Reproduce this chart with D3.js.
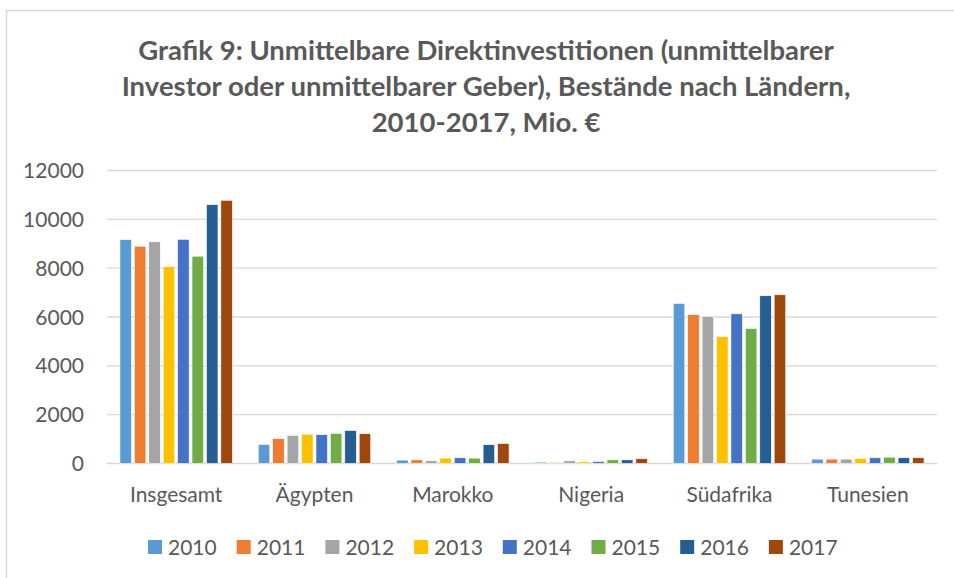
<!DOCTYPE html>
<html>
<head>
<meta charset="utf-8">
<script src="https://cdn.jsdelivr.net/npm/d3@7"></script>
<style>
  body { margin: 0; background: #fff; }
  text { font-family: Lato, "Open Sans", sans-serif; }
</style>
</head>
<body>
<script>
// data (Mio. €)
var countries = ["Insgesamt", "Ägypten", "Marokko", "Nigeria", "Südafrika", "Tunesien"];
var years = ["2010", "2011", "2012", "2013", "2014", "2015", "2016", "2017"];
var colors = ["#5b9bd5", "#ed7d31", "#a5a5a5", "#ffc000", "#4472c4", "#70ad47", "#255e91", "#9e480e"];

var v2010 = [9170, 780, 140, 55, 6560, 180];
var v2011 = [8900, 1020, 150, 40, 6100, 180];
var v2012 = [9080, 1150, 110, 110, 6020, 180];
var v2013 = [8060, 1200, 220, 70, 5200, 205];
var v2014 = [9180, 1180, 235, 80, 6130, 235];
var v2015 = [8490, 1230, 220, 150, 5530, 260];
var v2016 = [10600, 1350, 770, 150, 6870, 235];
var v2017 = [10780, 1220, 820, 195, 6910, 235];
var yTicks = [0, 2000, 4000, 6000, 8000, 10000, 12000];

var series = [v2010, v2011, v2012, v2013, v2014, v2015, v2016, v2017];
var titleLines = [
  "Grafik 9: Unmittelbare Direktinvestitionen (unmittelbarer",
  "Investor oder unmittelbarer Geber), Bestände nach Ländern,",
  "2010-2017, Mio. €"
];

var w = 954, h = 578;
var svg = d3.select("body").append("svg")
    .attr("width", w)
    .attr("height", h);

// outer frame
svg.append("rect")
    .attr("x", 6.5).attr("y", 10.5)
    .attr("width", 960).attr("height", 600)
    .attr("fill", "none")
    .attr("stroke", "#d9d9d9")
    .attr("stroke-width", 1.5);

// title
svg.selectAll("text.title")
    .data(titleLines)
    .enter()
    .append("text")
    .attr("class", "title")
    .attr("x", 486)
    .attr("y", function(d, i) { return 60 + i * 36; })
    .attr("text-anchor", "middle")
    .attr("font-size", "27.5px")
    .attr("font-weight", "bold")
    .attr("fill", "#595959")
    .text(function(d) { return d; });

var plotL = 107, plotR = 937, plotT = 170.5, plotB = 463.5;

var y = d3.scaleLinear().domain([0, 12000]).range([plotB, plotT]);
var x0 = d3.scaleBand().domain(countries).range([plotL, plotR]).padding(0);
var x1 = d3.scaleBand().domain(years)
    .range([11.5, x0.bandwidth() - 11.5])
    .paddingInner(0.2).paddingOuter(0.1);

// gridlines
svg.append("g")
    .selectAll("line")
    .data(yTicks)
    .enter()
    .append("line")
    .attr("x1", plotL).attr("x2", plotR)
    .attr("y1", function(d) { return y(d); })
    .attr("y2", function(d) { return y(d); })
    .attr("stroke", "#d9d9d9")
    .attr("stroke-width", 1.3);

// y labels
svg.append("g")
    .selectAll("text")
    .data(yTicks)
    .enter()
    .append("text")
    .attr("x", 84)
    .attr("y", function(d) { return y(d) + 7.5; })
    .attr("text-anchor", "end")
    .attr("font-size", "21px")
    .attr("fill", "#595959")
    .text(function(d) { return d; });

// bars
var groups = svg.append("g")
    .selectAll("g")
    .data(series)
    .enter()
    .append("g")
    .attr("fill", function(d, i) { return colors[i]; });

groups.selectAll("rect")
    .data(function(d, i) {
        return d.map(function(v, j) { return { c: countries[j], yr: years[i], v: v }; });
    })
    .enter()
    .append("rect")
    .attr("x", function(d) { return x0(d.c) + x1(d.yr); })
    .attr("y", function(d) { return y(d.v); })
    .attr("width", x1.bandwidth())
    .attr("height", function(d) { return y(0) - y(d.v); })
    .attr("stroke", "#fff")
    .attr("stroke-width", 0.6);

// category labels
svg.append("g")
    .selectAll("text")
    .data(countries)
    .enter()
    .append("text")
    .attr("x", function(d) { return x0(d) + x0.bandwidth() / 2; })
    .attr("y", 502)
    .attr("text-anchor", "middle")
    .attr("font-size", "21px")
    .attr("fill", "#595959")
    .text(function(d) { return d; });

// legend
var legend = svg.append("g")
    .selectAll("g")
    .data(years)
    .enter()
    .append("g")
    .attr("transform", function(d, i) { return "translate(" + (148 + i * 88.7) + ",540)"; });

legend.append("rect")
    .attr("width", 14).attr("height", 14)
    .attr("y", 0)
    .attr("fill", function(d, i) { return colors[i]; });

legend.append("text")
    .attr("x", 20)
    .attr("y", 15)
    .attr("font-size", "21px")
    .attr("fill", "#595959")
    .text(function(d) { return d; });
</script>
</body>
</html>
